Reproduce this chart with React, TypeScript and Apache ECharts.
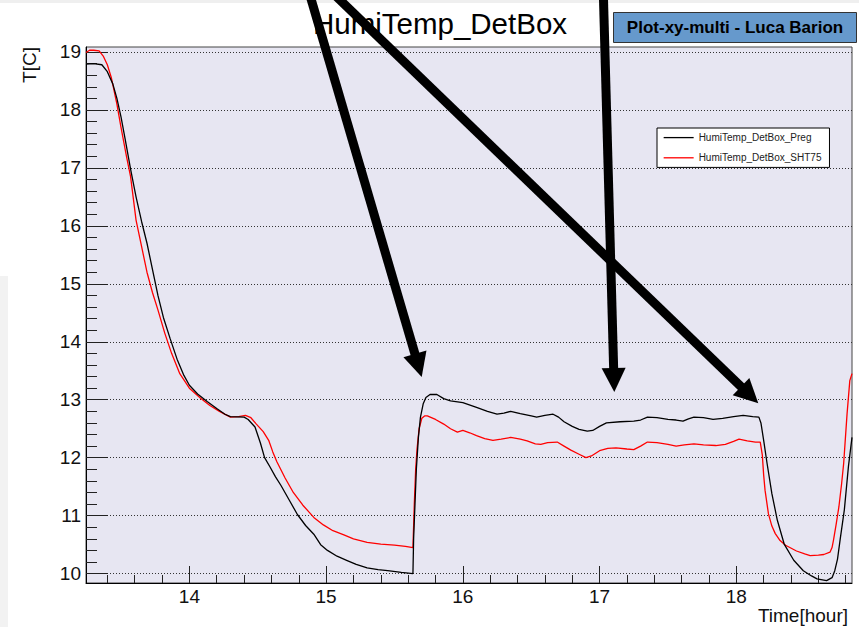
import React, { useEffect, useRef } from "react";
import * as echarts from "echarts";

// ---- data (hours, °C) ----
const pregTime = [
  13.244, 13.3, 13.36, 13.4, 13.44, 13.47, 13.5, 13.53, 13.57, 13.61, 13.65, 13.69, 13.73, 13.77, 13.81, 13.86,
  13.91, 13.96, 14.0, 14.06, 14.13, 14.2, 14.26, 14.3, 14.4, 14.43, 14.48, 14.52, 14.55, 14.59, 14.63, 14.67,
  14.73, 14.79, 14.85, 14.91, 14.96, 15.01, 15.08, 15.15, 15.22, 15.3, 15.38, 15.45, 15.55, 15.635,
  15.64, 15.65, 15.66, 15.675, 15.69, 15.71, 15.73, 15.76, 15.81, 15.86, 15.91, 16.0, 16.1, 16.18, 16.25, 16.3,
  16.35, 16.42, 16.5, 16.54, 16.6, 16.66, 16.7, 16.74, 16.8, 16.85, 16.91, 16.95, 17.0, 17.05, 17.15, 17.25,
  17.3, 17.35, 17.42, 17.5, 17.56, 17.61, 17.65, 17.69, 17.76, 17.83, 17.9, 17.98, 18.05, 18.12, 18.165,
  18.18, 18.2, 18.225, 18.26, 18.3, 18.35, 18.42, 18.49, 18.55, 18.59, 18.66, 18.7, 18.72, 18.74, 18.76, 18.79,
  18.82, 18.846,
];
const pregTemp = [
  18.79, 18.8, 18.78, 18.66, 18.45, 18.2, 17.88, 17.5, 16.98, 16.5, 16.08, 15.7, 15.25, 14.8, 14.42, 14.05,
  13.7, 13.42, 13.25, 13.1, 12.97, 12.85, 12.75, 12.71, 12.7, 12.66, 12.53, 12.25, 12.0, 11.84, 11.67, 11.52,
  11.27, 11.02, 10.83, 10.68, 10.5, 10.4, 10.3, 10.23, 10.16, 10.1, 10.07, 10.05, 10.02, 10.0,
  10.6, 11.2, 11.8, 12.35, 12.7, 12.93, 13.04, 13.09, 13.09, 13.02, 12.98, 12.95, 12.87, 12.8, 12.75, 12.77,
  12.8, 12.76, 12.72, 12.7, 12.73, 12.75, 12.7, 12.62, 12.54, 12.49, 12.46, 12.47, 12.54, 12.6, 12.62, 12.63,
  12.65, 12.7, 12.69, 12.66, 12.65, 12.63, 12.67, 12.7, 12.69, 12.66, 12.68, 12.71, 12.73, 12.71, 12.7,
  12.6, 12.3, 11.9, 11.38, 10.92, 10.51, 10.23, 10.05, 9.96, 9.91, 9.88, 9.93, 10.05, 10.25, 10.6, 11.1,
  11.85, 12.35,
];
const shtTime = [
  13.244, 13.27, 13.3, 13.34, 13.37, 13.4, 13.43, 13.47, 13.5, 13.54, 13.57, 13.61, 13.65, 13.69, 13.73, 13.77,
  13.82, 13.87, 13.93, 14.0, 14.08, 14.15, 14.22, 14.3, 14.36, 14.41, 14.45, 14.49, 14.54, 14.58, 14.61, 14.64,
  14.7, 14.76, 14.83, 14.91, 14.98, 15.05, 15.13, 15.2, 15.3, 15.4, 15.5, 15.58, 15.635,
  15.645, 15.655, 15.665, 15.68, 15.7, 15.72, 15.74, 15.8, 15.86, 15.91, 15.96, 16.0, 16.05, 16.1, 16.16, 16.22,
  16.28, 16.35, 16.42, 16.47, 16.53, 16.57, 16.62, 16.69, 16.74, 16.79, 16.85, 16.9, 16.94, 17.0, 17.06, 17.12,
  17.2, 17.25, 17.3, 17.35, 17.42, 17.5, 17.56, 17.62, 17.69, 17.76, 17.85, 17.92, 17.98, 18.02, 18.08, 18.14,
  18.175, 18.19, 18.2, 18.21, 18.235, 18.26, 18.285, 18.32, 18.36, 18.44, 18.5, 18.54, 18.6, 18.64, 18.685, 18.7,
  18.71, 18.73, 18.75, 18.77, 18.785, 18.81, 18.83, 18.846,
];
const shtTemp = [
  18.99, 19.03, 19.03, 19.02, 18.93, 18.78, 18.55, 18.1, 17.7, 17.2, 16.85, 16.1, 15.65, 15.2, 14.85, 14.55,
  14.15, 13.8, 13.45, 13.2, 13.03, 12.9, 12.8, 12.7, 12.71, 12.73, 12.69, 12.58, 12.45, 12.3, 12.1, 11.93,
  11.65, 11.4, 11.18, 10.97, 10.84, 10.74, 10.67, 10.6, 10.54, 10.51, 10.49, 10.47, 10.45,
  11.2, 11.8, 12.15, 12.5, 12.68, 12.72, 12.72, 12.66, 12.58, 12.5, 12.44, 12.47, 12.43, 12.38, 12.33, 12.3,
  12.32, 12.35, 12.32, 12.29, 12.24, 12.23, 12.26, 12.27, 12.2, 12.13, 12.06, 12.0, 12.03, 12.12, 12.16, 12.17,
  12.15, 12.14, 12.2, 12.27, 12.26, 12.23, 12.2, 12.22, 12.24, 12.22, 12.21, 12.23, 12.28, 12.32, 12.29, 12.27,
  12.27, 12.05, 11.7, 11.44, 11.03, 10.82, 10.69, 10.57, 10.49, 10.39, 10.34, 10.31, 10.32, 10.33, 10.37, 10.45,
  10.57, 10.85, 11.15, 11.55, 11.9, 12.76, 13.33, 13.45,
];

const seriesNames = ["HumiTemp_DetBox_Preg", "HumiTemp_DetBox_SHT75"];
const xMajorTicks = [14, 15, 16, 17, 18];
const xMinorTicks = [
  13.4, 13.6, 13.8, 14.2, 14.4, 14.6, 14.8, 15.2, 15.4, 15.6, 15.8, 16.2, 16.4, 16.6, 16.8, 17.2, 17.4, 17.6,
  17.8, 18.2, 18.4, 18.6, 18.8,
];
const yMajorTicks = [10, 11, 12, 13, 14, 15, 16, 17, 18, 19];
const yMinorTicks = [
  10.2, 10.4, 10.6, 10.8, 11.2, 11.4, 11.6, 11.8, 12.2, 12.4, 12.6, 12.8, 13.2, 13.4, 13.6, 13.8, 14.2, 14.4,
  14.6, 14.8, 15.2, 15.4, 15.6, 15.8, 16.2, 16.4, 16.6, 16.8, 17.2, 17.4, 17.6, 17.8, 18.2, 18.4, 18.6, 18.8,
];

const X_MIN = 13.244;
const X_MAX = 18.846;
const Y_MIN = 9.838;
const Y_MAX = 19.086;

const FONT = '"Liberation Sans", Arial, Helvetica, sans-serif';

function zip(a: number[], b: number[]) {
  return a.map((v, i) => [v, b[i]]);
}

function arrow(sx: number, sy: number, tx: number, ty: number) {
  const dx = tx - sx;
  const dy = ty - sy;
  const len = Math.sqrt(dx * dx + dy * dy);
  const ux = dx / len;
  const uy = dy / len;
  const headLen = 24;
  const half = 12;
  const bx = tx - ux * headLen;
  const by = ty - uy * headLen;
  const px = -uy;
  const py = ux;
  return [
    {
      type: "line",
      z: 100,
      shape: { x1: sx, y1: sy, x2: bx + ux * 2, y2: by + uy * 2 },
      style: { stroke: "#000", lineWidth: 9 },
    },
    {
      type: "polygon",
      z: 100,
      shape: {
        points: [
          [tx, ty],
          [bx + px * half, by + py * half],
          [bx - px * half, by - py * half],
        ],
      },
      style: { fill: "#000" },
    },
  ];
}

export default function App() {
  const ref = useRef<HTMLDivElement>(null);

  useEffect(() => {
    if (!ref.current) return;
    const chart = echarts.init(ref.current, undefined, { renderer: "svg" });

    const axisCommon = {
      type: "value",
      min: X_MIN,
      max: X_MAX,
      position: "bottom",
    };

    const option: any = {
      animation: false,
      backgroundColor: "#ffffff",
      grid: {
        left: 86,
        right: 7,
        top: 47,
        bottom: 44,
        show: true,
        backgroundColor: "#e7e6f2",
        borderColor: "#444",
        borderWidth: 1,
        containLabel: false,
      },
      legend: {
        orient: "vertical",
        left: 657,
        top: 128,
        width: 173,
        data: seriesNames,
        itemWidth: 30,
        itemHeight: 14,
        itemGap: 9,
        padding: [4, 8, 4, 6],
        backgroundColor: "#ffffff",
        borderColor: "#000",
        borderWidth: 1,
        itemStyle: { opacity: 0, borderWidth: 0 },
        lineStyle: { width: 1.3 },
        textStyle: { fontFamily: FONT, fontSize: 10, color: "#222" },
      },
      xAxis: [
        {
          ...axisCommon,
          axisLine: { show: true, onZero: false, lineStyle: { color: "#000", width: 1 } },
          axisTick: { show: true, inside: true, length: 17, customValues: xMajorTicks, lineStyle: { color: "#222" } },
          axisLabel: {
            show: true,
            customValues: xMajorTicks,
            margin: 4,
            fontFamily: FONT,
            fontSize: 19,
            color: "#111",
          },
          splitLine: { show: false },
        },
        {
          ...axisCommon,
          axisLine: { show: false },
          axisTick: { show: true, inside: true, length: 8, customValues: xMinorTicks, lineStyle: { color: "#222" } },
          axisLabel: { show: false },
          splitLine: { show: false },
        },
      ],
      yAxis: [
        {
          type: "value",
          min: Y_MIN,
          max: Y_MAX,
          position: "left",
          axisLine: { show: true, onZero: false, lineStyle: { color: "#000", width: 1 } },
          axisTick: { show: true, inside: true, length: 22, customValues: yMajorTicks, lineStyle: { color: "#222" } },
          axisLabel: {
            show: true,
            customValues: yMajorTicks,
            margin: 5,
            fontFamily: FONT,
            fontSize: 19,
            color: "#111",
          },
          splitLine: { show: true, lineStyle: { color: "#333", type: [1, 2], width: 1 } },
        },
        {
          type: "value",
          min: Y_MIN,
          max: Y_MAX,
          position: "left",
          axisLine: { show: false },
          axisTick: { show: true, inside: true, length: 11, customValues: yMinorTicks, lineStyle: { color: "#222" } },
          axisLabel: { show: false },
          splitLine: { show: false },
        },
      ],
      series: [
        {
          name: seriesNames[0],
          type: "line",
          xAxisIndex: 0,
          yAxisIndex: 0,
          data: zip(pregTime, pregTemp),
          symbol: "none",
          lineStyle: { color: "#000", width: 1.3 },
          itemStyle: { color: "#000" },
          clip: true,
          z: 3,
        },
        {
          name: seriesNames[1],
          type: "line",
          xAxisIndex: 0,
          yAxisIndex: 0,
          data: zip(shtTime, shtTemp),
          symbol: "none",
          lineStyle: { color: "#ff0000", width: 1.3 },
          itemStyle: { color: "#ff0000" },
          clip: true,
          z: 2,
        },
      ],
      graphic: [
        { type: "rect", z: 0, shape: { x: 0, y: 0, width: 859, height: 3 }, style: { fill: "#efefef" } },
        { type: "rect", z: 0, shape: { x: 0, y: 276, width: 8, height: 351 }, style: { fill: "#f2f2f2" } },
        {
          type: "text",
          z: 10,
          x: 440,
          y: 23,
          style: {
            text: "HumiTemp_DetBox",
            font: `29.5px ${FONT}`,
            fill: "#000",
            align: "center",
            verticalAlign: "middle",
            textAlign: "center",
            textVerticalAlign: "middle",
          },
        },
        {
          type: "rect",
          z: 10,
          shape: { x: 613.5, y: 12.5, width: 243, height: 30 },
          style: { fill: "#6699cc", stroke: "#333", lineWidth: 1 },
        },
        {
          type: "text",
          z: 11,
          x: 735,
          y: 27.5,
          style: {
            text: "Plot-xy-multi - Luca Barion",
            font: `bold 17px ${FONT}`,
            fill: "#000",
            align: "center",
            verticalAlign: "middle",
            textAlign: "center",
            textVerticalAlign: "middle",
          },
        },
        {
          type: "text",
          z: 10,
          x: 29,
          y: 47,
          rotation: Math.PI / 2,
          style: {
            text: "T[C]",
            font: `19px ${FONT}`,
            fill: "#111",
            align: "right",
            verticalAlign: "middle",
            textAlign: "right",
            textVerticalAlign: "middle",
          },
        },
        {
          type: "text",
          z: 10,
          x: 848,
          y: 615,
          style: {
            text: "Time[hour]",
            font: `19px ${FONT}`,
            fill: "#111",
            align: "right",
            verticalAlign: "middle",
            textAlign: "right",
            textVerticalAlign: "middle",
          },
        },
        ...arrow(309, -8, 421.7, 377),
        ...arrow(603.3, -8, 614.3, 392),
        ...arrow(331.7, -8, 758.3, 403.3),
      ],
    };

    chart.setOption(option);
    return () => {
      chart.dispose();
    };
  }, []);

  return (
    <div
      ref={ref}
      style={{ position: "fixed", left: 0, top: 0, width: 859, height: 627 }}
    />
  );
}
